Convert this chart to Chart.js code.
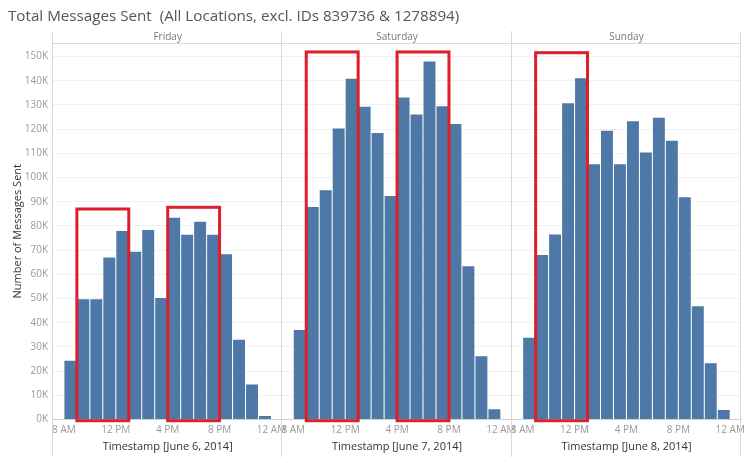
<!DOCTYPE html>
<html><head><meta charset="utf-8">
<script src="https://cdn.jsdelivr.net/npm/chart.js@4/dist/chart.umd.min.js"></script>
<style>
html,body{margin:0;padding:0;background:#fff;}
#wrap{position:relative;width:750px;height:463px;overflow:hidden;}
#title{position:absolute;left:8px;top:5px;font:15.2px "Open Sans",sans-serif;color:#555;white-space:pre;}
canvas{position:absolute;left:0;top:0;}
</style></head><body>
<div id="wrap"><canvas id="c" width="750" height="463"></canvas><div id="title">Total Messages Sent  (All Locations, excl. IDs 839736 &amp; 1278894)</div></div>
<script>
// ---- data ----
const days = ['Friday', 'Saturday', 'Sunday'];
const dates = ['June 6, 2014', 'June 7, 2014', 'June 8, 2014'];
const hours = [8, 9, 10, 11, 12, 13, 14, 15, 16, 17, 18, 19, 20, 21, 22, 23];
const friday   = [24300, 49700, 49700, 67000, 77900, 69300, 78300, 50200, 83400, 76400, 81700, 76400, 68300, 33000, 14500, 1400];
const saturday = [37000, 87800, 94700, 120300, 140800, 129300, 118400, 92400, 133100, 126000, 148000, 129500, 122100, 63300, 26100, 4200];
const sunday   = [33800, 68000, 76500, 130700, 141000, 105500, 119300, 105500, 123300, 110300, 124700, 115200, 91900, 46800, 23200, 3900];
const tickHours = [8, 12, 16, 20, 24];
const tickLabels = ['8 AM', '12 PM', '4 PM', '8 PM', '12 AM'];
const yTickValues = [0, 10000, 20000, 30000, 40000, 50000, 60000, 70000, 80000, 90000, 100000, 110000, 120000, 130000, 140000, 150000];
const yTickLabels = ['0K', '10K', '20K', '30K', '40K', '50K', '60K', '70K', '80K', '90K', '100K', '110K', '120K', '130K', '140K', '150K'];
// highlighted hour ranges (day index, from hour, to hour, top value)
const highlightDay  = [0, 0, 1, 1, 2];
const highlightFrom = [9, 16, 9, 16, 9];
const highlightTo   = [13, 20, 13, 20, 13];
const highlightTop  = [87000, 87700, 151900, 151900, 151600];

// ---- layout of the hour axis per panel ----
const pad = 0.84;
const span = 16 + 2 * pad;
const xMin = 8 - pad;
const xMax = xMin + days.length * span;
const series = [friday, saturday, sunday];

Chart.defaults.font.family = '"Open Sans", sans-serif';

const panelPlugin = {
  id: 'panels',
  afterDatasetsDraw(chart) {
    const {ctx, scales: {x, y}} = chart;
    ctx.save();
    ctx.strokeStyle = '#dc1f2b';
    ctx.lineWidth = 3;
    for (let i = 0; i < highlightDay.length; i++) {
      const off = highlightDay[i] * span;
      const x1 = x.getPixelForValue(highlightFrom[i] + off);
      const x2 = x.getPixelForValue(highlightTo[i] + off);
      const y1 = y.getPixelForValue(highlightTop[i]);
      const y2 = y.getPixelForValue(-500);
      ctx.strokeRect(x1, y1, x2 - x1, y2 - y1);
    }
    ctx.restore();
  },
  afterDraw(chart) {
    const {ctx, chartArea, scales: {x}} = chart;
    ctx.save();
    const headTop = chartArea.top - 12;
    ctx.strokeStyle = '#d9d9d9';
    ctx.lineWidth = 1;
    ctx.beginPath();
    for (let i = 0; i <= days.length; i++) {
      const px = Math.round(x.getPixelForValue(xMin + i * span)) - 0.5;
      ctx.moveTo(px, headTop);
      ctx.lineTo(px, chart.height - 6);
    }
    ctx.moveTo(chartArea.left, Math.round(chartArea.top) + 0.5);
    ctx.lineTo(chartArea.right, Math.round(chartArea.top) + 0.5);
    ctx.stroke();
    ctx.textAlign = 'center';
    ctx.textBaseline = 'middle';
    for (let i = 0; i < days.length; i++) {
      const cx = (x.getPixelForValue(xMin + i * span) + x.getPixelForValue(xMin + (i + 1) * span)) / 2;
      ctx.fillStyle = '#777';
      ctx.font = '10px "Open Sans", sans-serif';
      ctx.fillText(days[i], cx, headTop + 6.5);
      ctx.fillStyle = '#333';
      ctx.font = '11px "Open Sans", sans-serif';
      ctx.fillText('Timestamp [' + dates[i] + ']', cx, chartArea.bottom + 27);
    }
    ctx.restore();
  }
};

const datasets = series.map((vals, d) => ({
  label: days[d],
  data: hours.map((h, i) => ({x: h + 0.5 + d * span, y: vals[i]})),
  backgroundColor: '#4e79a7',
  borderWidth: 0,
  grouped: false,
  barPercentage: 0.92,
  categoryPercentage: 1
}));

new Chart(document.getElementById('c'), {
  type: 'bar',
  data: {datasets},
  options: {
    responsive: false,
    animation: false,
    layout: {padding: {top: 43, right: 6, bottom: 0, left: 0}},
    plugins: {legend: {display: false}, tooltip: {enabled: false}},
    scales: {
      x: {
        type: 'linear', min: xMin, max: xMax, offset: false,
        grid: {display: false, drawTicks: false},
        border: {display: true, color: '#d0d0d0'},
        afterBuildTicks: s => {
          const t = [];
          for (let d = 0; d < days.length; d++) tickHours.forEach(h => t.push({value: h + d * span}));
          s.ticks = t;
        },
        afterFit: s => { s.height = 43.5; },
        ticks: {autoSkip: false, maxRotation: 0, minRotation: 0, padding: 5, color: '#999', font: {size: 10},
          callback: (v, i) => tickLabels[i % tickLabels.length]}
      },
      y: {
        min: 0, max: 155600,
        grid: {color: '#f0f0f0', drawTicks: false},
        border: {display: false},
        afterBuildTicks: s => { s.ticks = yTickValues.map(v => ({value: v})); },
        afterFit: s => { s.width = 53; },
        ticks: {autoSkip: false, padding: 5, color: '#999', font: {size: 10},
          callback: (v, i) => yTickLabels[i]},
        title: {display: true, text: 'Number of Messages Sent', color: '#333', font: {size: 11}, padding: {top: 11, bottom: 0}}
      }
    }
  },
  plugins: [panelPlugin]
});
</script>
</body></html>
